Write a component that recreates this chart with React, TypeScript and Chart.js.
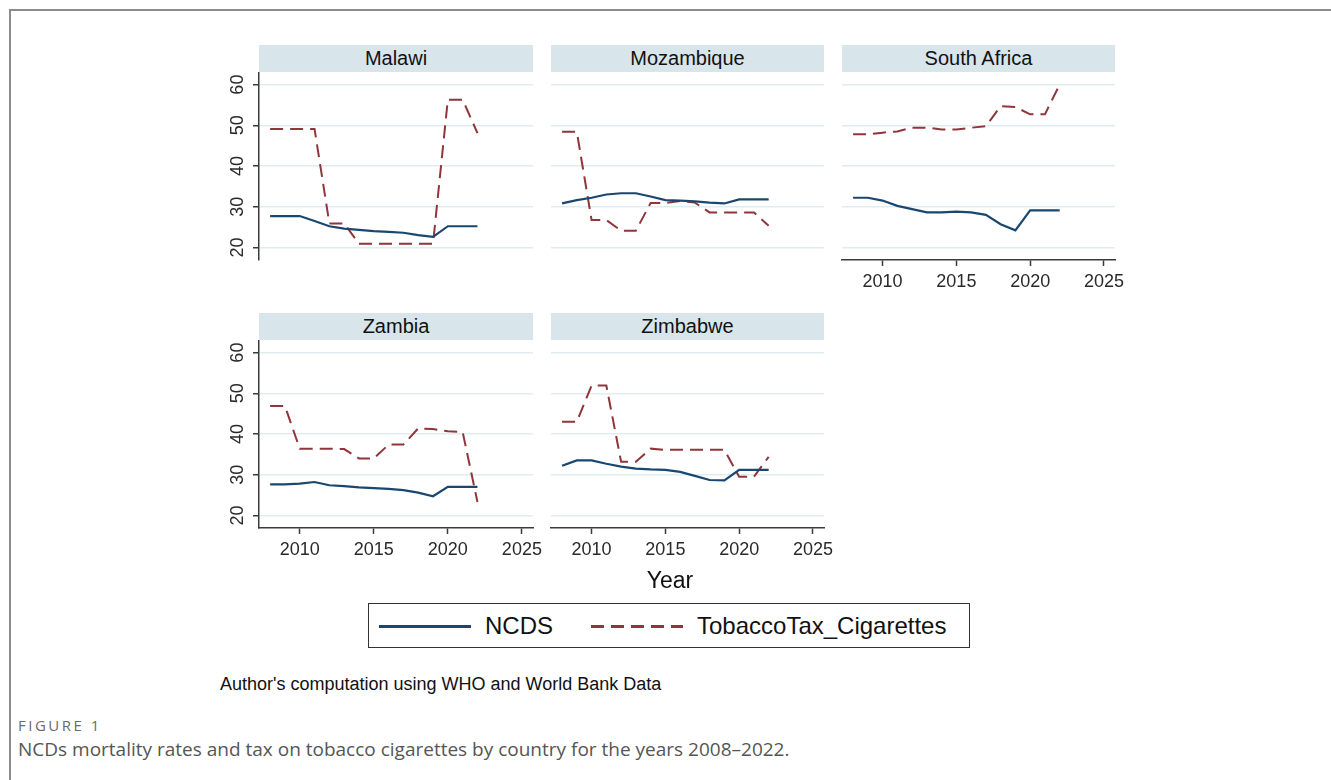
import React, { useEffect, useRef } from "react";
import { Chart, registerables } from "chart.js";

Chart.register(...registerables);

// ---------------- data ----------------
const years = [2008, 2009, 2010, 2011, 2012, 2013, 2014, 2015, 2016, 2017, 2018, 2019, 2020, 2021, 2022];

const ncdsMalawi = [27.7, 27.7, 27.7, 26.5, 25.2, 24.6, 24.3, 24.0, 23.8, 23.6, 23.0, 22.6, 25.2, 25.2, 25.2];
const taxMalawi = [49.1, 49.1, 49.1, 49.1, 25.9, 25.9, 20.9, 20.9, 20.9, 20.9, 20.9, 20.9, 56.3, 56.3, 48.1];

const ncdsMozambique = [30.8, 31.6, 32.2, 33.0, 33.3, 33.3, 32.5, 31.6, 31.5, 31.3, 31.0, 30.8, 31.8, 31.8, 31.8];
const taxMozambique = [48.4, 48.4, 26.7, 26.7, 24.1, 24.1, 30.9, 30.9, 31.4, 31.0, 28.6, 28.6, 28.6, 28.6, 25.3];

const ncdsSouthAfrica = [32.2, 32.2, 31.5, 30.2, 29.4, 28.6, 28.6, 28.8, 28.6, 28.0, 25.7, 24.2, 29.1, 29.1, 29.1];
const taxSouthAfrica = [47.8, 47.8, 48.2, 48.5, 49.4, 49.4, 49.0, 49.0, 49.4, 49.8, 54.7, 54.5, 52.7, 52.7, 60.0];

const ncdsZambia = [27.6, 27.6, 27.8, 28.2, 27.4, 27.2, 26.9, 26.7, 26.5, 26.2, 25.6, 24.7, 27.0, 27.0, 27.0];
const taxZambia = [46.9, 46.9, 36.4, 36.4, 36.4, 36.3, 34.0, 34.0, 37.4, 37.4, 41.4, 41.2, 40.7, 40.5, 23.3];

const ncdsZimbabwe = [32.2, 33.5, 33.5, 32.7, 32.0, 31.5, 31.3, 31.2, 30.7, 29.7, 28.7, 28.6, 31.2, 31.2, 31.2];
const taxZimbabwe = [43.0, 43.0, 51.9, 51.9, 33.2, 33.2, 36.4, 36.1, 36.1, 36.1, 36.1, 36.1, 29.5, 29.5, 34.4];

const xTickValues = [2010, 2015, 2020, 2025];
const yTickValues = [20, 30, 40, 50, 60];
const seriesLabels = ["NCDS", "TobaccoTax_Cigarettes"];
const xAxisTitle = "Year";
const sourceNote = "Author's computation using WHO and World Bank Data";
const figureLabel = "FIGURE 1";
const figureCaption = "NCDs mortality rates and tax on tobacco cigarettes by country for the years 2008\u20132022.";

// ---------------- styles ----------------
const FONT = "'Liberation Sans', Arial, Helvetica, sans-serif";
const CAPTION_FONT = "'Open Sans', 'Noto Sans', sans-serif";
const NAVY = "#1a476f";
const MAROON = "#90353b";
const GRID = "#e1ecee";
const STRIP = "#d8e5ea";
const AXIS = "#3a3a3a";
const TICK_TEXT = "#2a2a2a";
const X_MIN = 2007.25;
const X_MAX = 2025.75;
const Y_MIN = 16.9;
const Y_MAX = 63.1;
const Y_AXIS_W = 50;
const X_AXIS_H = 40;
const PAD_R = 16;
const PLOT_H = 188;

type PanelProps = {
  title: string;
  ncds: number[];
  tax: number[];
  left: number;
  top: number;
  width: number;
  showY: boolean;
  showX: boolean;
};

function Panel({ title, ncds, tax, left, top, width, showY, showX }: PanelProps) {
  const ref = useRef<HTMLCanvasElement | null>(null);
  useEffect(() => {
    if (!ref.current) return;
    const tickFont = { family: FONT, size: 18 };
    const chart = new Chart(ref.current, {
      type: "line",
      data: {
        datasets: [
          {
            label: seriesLabels[0],
            data: years.map((x, i) => ({ x, y: ncds[i] })),
            borderColor: NAVY,
            borderWidth: 2.2,
            pointRadius: 0,
            fill: false,
            tension: 0,
          },
          {
            label: seriesLabels[1],
            data: years.map((x, i) => ({ x, y: tax[i] })),
            borderColor: MAROON,
            borderWidth: 2,
            borderDash: [13, 7],
            pointRadius: 0,
            fill: false,
            tension: 0,
          },
        ],
      },
      options: {
        responsive: false,
        animation: false,
        events: [],
        layout: { padding: { left: 0, right: PAD_R, top: 0, bottom: 0 } },
        plugins: { legend: { display: false }, tooltip: { enabled: false }, title: { display: false } },
        scales: {
          x: {
            type: "linear",
            min: X_MIN,
            max: X_MAX,
            afterBuildTicks: (s: any) => {
              s.ticks = xTickValues.map((v) => ({ value: v }));
            },
            afterFit: (s: any) => {
              s.height = X_AXIS_H;
              s.paddingLeft = 0;
              s.paddingRight = 0;
              s.paddingTop = 0;
              s.paddingBottom = 0;
            },
            grid: {
              display: showX,
              drawOnChartArea: false,
              drawTicks: showX,
              tickLength: 6,
              tickColor: AXIS,
              tickWidth: 1.5,
            },
            border: { display: showX, color: AXIS, width: 1.5 },
            ticks: {
              display: showX,
              font: tickFont,
              color: TICK_TEXT,
              padding: 5,
              maxRotation: 0,
              minRotation: 0,
              autoSkip: false,
              callback: (v: any) => String(v),
            },
          },
          y: {
            type: "linear",
            min: Y_MIN,
            max: Y_MAX,
            afterBuildTicks: (s: any) => {
              s.ticks = yTickValues.map((v) => ({ value: v }));
            },
            afterFit: (s: any) => {
              s.width = Y_AXIS_W;
              s.paddingLeft = 0;
              s.paddingRight = 0;
              s.paddingTop = 0;
              s.paddingBottom = 0;
            },
            grid: {
              color: GRID,
              lineWidth: 1.5,
              drawTicks: showY,
              tickLength: 6,
              tickColor: AXIS,
              tickWidth: 1.5,
            },
            border: { display: showY, color: AXIS, width: 1.5 },
            ticks: {
              display: showY,
              font: tickFont,
              color: TICK_TEXT,
              padding: 5,
              minRotation: 90,
              maxRotation: 90,
              crossAlign: "center",
              autoSkip: false,
              callback: (v: any) => String(v),
            },
          },
        },
      },
    } as any);
    return () => chart.destroy();
  }, [ncds, tax, showX, showY]);

  const canvasW = Y_AXIS_W + width + PAD_R;
  const canvasH = PLOT_H + X_AXIS_H;
  return (
    <>
      <div
        style={{
          position: "absolute",
          left,
          top: top - 27,
          width,
          height: 27,
          background: STRIP,
          fontFamily: FONT,
          fontSize: 20,
          color: "#111",
          textAlign: "center",
          lineHeight: "27px",
        }}
      >
        {title}
      </div>
      <canvas
        ref={ref}
        width={canvasW}
        height={canvasH}
        style={{ position: "absolute", left: left - Y_AXIS_W, top, width: canvasW, height: canvasH }}
      />
    </>
  );
}

export default function App() {
  const cols = [
    { left: 259, width: 274 },
    { left: 551, width: 273 },
    { left: 842, width: 273 },
  ];
  const rows = [72, 340];
  return (
    <div
      style={{
        position: "absolute",
        left: 0,
        top: 0,
        width: 1331,
        height: 780,
        overflow: "hidden",
        background: "#fff",
      }}
    >
      <div
        style={{
          position: "absolute",
          left: 9,
          top: 9,
          width: 1340,
          height: 800,
          borderTop: "2px solid #8c8c8c",
          borderLeft: "2px solid #8c8c8c",
        }}
      />
      <Panel title="Malawi" ncds={ncdsMalawi} tax={taxMalawi} left={cols[0].left} width={cols[0].width} top={rows[0]} showY={true} showX={false} />
      <Panel title="Mozambique" ncds={ncdsMozambique} tax={taxMozambique} left={cols[1].left} width={cols[1].width} top={rows[0]} showY={false} showX={false} />
      <Panel title="South Africa" ncds={ncdsSouthAfrica} tax={taxSouthAfrica} left={cols[2].left} width={cols[2].width} top={rows[0]} showY={false} showX={true} />
      <Panel title="Zambia" ncds={ncdsZambia} tax={taxZambia} left={cols[0].left} width={cols[0].width} top={rows[1]} showY={true} showX={true} />
      <Panel title="Zimbabwe" ncds={ncdsZimbabwe} tax={taxZimbabwe} left={cols[1].left} width={cols[1].width} top={rows[1]} showY={false} showX={true} />

      <div
        style={{
          position: "absolute",
          left: 570,
          top: 565,
          width: 200,
          textAlign: "center",
          fontFamily: FONT,
          fontSize: 23,
          lineHeight: "30px",
          color: "#111",
        }}
      >
        {xAxisTitle}
      </div>

      <div
        style={{
          position: "absolute",
          left: 368,
          top: 603,
          width: 600,
          height: 43,
          border: "1.5px solid #333",
          fontFamily: FONT,
          fontSize: 24,
          color: "#111",
        }}
      >
        <svg width={600} height={43} style={{ position: "absolute", left: 0, top: 0 }}>
          <line x1={10} y1={22.5} x2={102} y2={22.5} stroke={NAVY} strokeWidth={3} />
          <line x1={222} y1={22.5} x2={314} y2={22.5} stroke={MAROON} strokeWidth={3} strokeDasharray="13 7" />
        </svg>
        <span style={{ position: "absolute", left: 116, top: 0, lineHeight: "43px" }}>{seriesLabels[0]}</span>
        <span style={{ position: "absolute", left: 328, top: 0, lineHeight: "43px" }}>{seriesLabels[1]}</span>
      </div>

      <div
        style={{
          position: "absolute",
          left: 220,
          top: 673,
          fontFamily: FONT,
          fontSize: 18,
          lineHeight: "22px",
          color: "#111",
          whiteSpace: "nowrap",
        }}
      >
        {sourceNote}
      </div>

      <div
        style={{
          position: "absolute",
          left: 18,
          top: 716,
          fontFamily: CAPTION_FONT,
          fontSize: 15,
          letterSpacing: "2.5px",
          lineHeight: "18px",
          color: "#6a6a6a",
          whiteSpace: "nowrap",
        }}
      >
        {figureLabel}
      </div>
      <div
        style={{
          position: "absolute",
          left: 18,
          top: 737,
          fontFamily: CAPTION_FONT,
          fontSize: 19,
          lineHeight: "24px",
          color: "#555",
          whiteSpace: "nowrap",
        }}
      >
        {figureCaption}
      </div>
    </div>
  );
}
